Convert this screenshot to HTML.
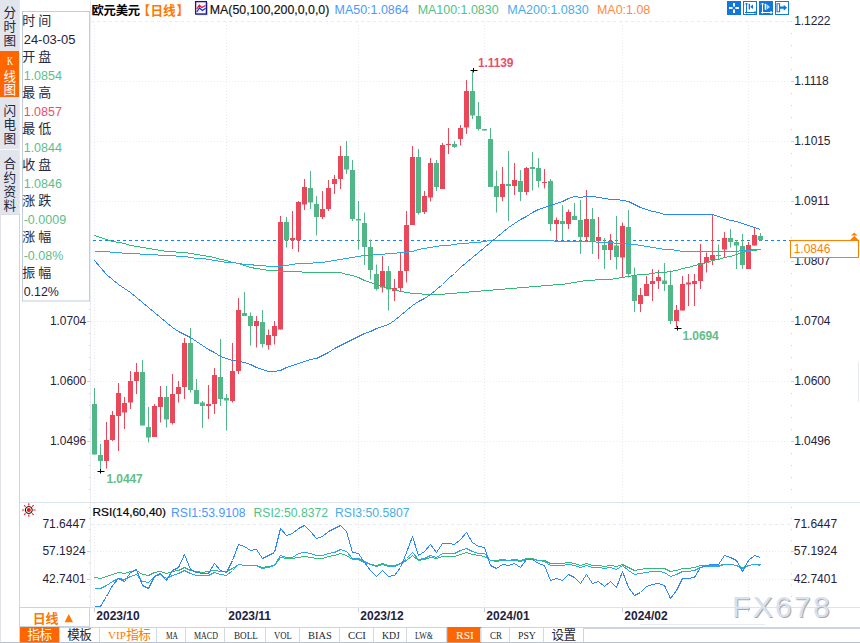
<!DOCTYPE html>
<html><head><meta charset="utf-8"><title>chart</title>
<style>
html,body{margin:0;padding:0;background:#fff;}
body{width:860px;height:643px;overflow:hidden;position:relative;font-family:"Liberation Sans",sans-serif;}
#c{position:absolute;left:0;top:0;width:860px;height:643px;overflow:hidden;}
svg{position:absolute;left:0;top:0;}
svg text{font-family:"Liberation Sans","Noto Sans CJK SC",sans-serif;}
.t{position:absolute;white-space:nowrap;box-sizing:content-box;}
</style></head><body><div id="c">
<svg width="860" height="643" viewBox="0 0 860 643">
<rect x="0" y="0" width="19.8" height="214" fill="#e3e5ed"/>
<line x1="91" y1="21.5" x2="790" y2="21.5" stroke="#e5ecf4" stroke-width="1" stroke-dasharray="3 3"/>
<line x1="91" y1="81.5" x2="790" y2="81.5" stroke="#e8ecf2" stroke-width="1" stroke-dasharray="1 2"/>
<line x1="91" y1="141.5" x2="790" y2="141.5" stroke="#e8ecf2" stroke-width="1" stroke-dasharray="1 2"/>
<line x1="91" y1="201.5" x2="790" y2="201.5" stroke="#e8ecf2" stroke-width="1" stroke-dasharray="1 2"/>
<line x1="91" y1="261.5" x2="790" y2="261.5" stroke="#e8ecf2" stroke-width="1" stroke-dasharray="1 2"/>
<line x1="91" y1="321.5" x2="790" y2="321.5" stroke="#e8ecf2" stroke-width="1" stroke-dasharray="1 2"/>
<line x1="91" y1="381.5" x2="790" y2="381.5" stroke="#e8ecf2" stroke-width="1" stroke-dasharray="1 2"/>
<line x1="91" y1="441.5" x2="790" y2="441.5" stroke="#e8ecf2" stroke-width="1" stroke-dasharray="1 2"/>
<line x1="94.5" y1="22" x2="94.5" y2="502" stroke="#e8ecf2" stroke-width="1" stroke-dasharray="1 2"/>
<line x1="94.5" y1="503" x2="94.5" y2="607" stroke="#e8ecf2" stroke-width="1" stroke-dasharray="1 2"/>
<line x1="94.5" y1="608" x2="94.5" y2="612" stroke="#c5cedc" stroke-width="1"/>
<line x1="226.5" y1="22" x2="226.5" y2="502" stroke="#e8ecf2" stroke-width="1" stroke-dasharray="1 2"/>
<line x1="226.5" y1="503" x2="226.5" y2="607" stroke="#e8ecf2" stroke-width="1" stroke-dasharray="1 2"/>
<line x1="226.5" y1="608" x2="226.5" y2="612" stroke="#c5cedc" stroke-width="1"/>
<line x1="358.5" y1="22" x2="358.5" y2="502" stroke="#e8ecf2" stroke-width="1" stroke-dasharray="1 2"/>
<line x1="358.5" y1="503" x2="358.5" y2="607" stroke="#e8ecf2" stroke-width="1" stroke-dasharray="1 2"/>
<line x1="358.5" y1="608" x2="358.5" y2="612" stroke="#c5cedc" stroke-width="1"/>
<line x1="484.5" y1="22" x2="484.5" y2="502" stroke="#e8ecf2" stroke-width="1" stroke-dasharray="1 2"/>
<line x1="484.5" y1="503" x2="484.5" y2="607" stroke="#e8ecf2" stroke-width="1" stroke-dasharray="1 2"/>
<line x1="484.5" y1="608" x2="484.5" y2="612" stroke="#c5cedc" stroke-width="1"/>
<line x1="622.5" y1="22" x2="622.5" y2="502" stroke="#e8ecf2" stroke-width="1" stroke-dasharray="1 2"/>
<line x1="622.5" y1="503" x2="622.5" y2="607" stroke="#e8ecf2" stroke-width="1" stroke-dasharray="1 2"/>
<line x1="622.5" y1="608" x2="622.5" y2="612" stroke="#c5cedc" stroke-width="1"/>
<line x1="748.5" y1="22" x2="748.5" y2="502" stroke="#e8ecf2" stroke-width="1" stroke-dasharray="1 2"/>
<line x1="748.5" y1="503" x2="748.5" y2="607" stroke="#e8ecf2" stroke-width="1" stroke-dasharray="1 2"/>
<line x1="748.5" y1="608" x2="748.5" y2="612" stroke="#c5cedc" stroke-width="1"/>
<line x1="91" y1="524.5" x2="790" y2="524.5" stroke="#e5ecf4" stroke-width="1" stroke-dasharray="3 3"/>
<line x1="91" y1="551.5" x2="790" y2="551.5" stroke="#e8ecf2" stroke-width="1" stroke-dasharray="1 2"/>
<line x1="91" y1="579.5" x2="790" y2="579.5" stroke="#e8ecf2" stroke-width="1" stroke-dasharray="1 2"/>
<line x1="791.5" y1="21" x2="791.5" y2="500" stroke="#c9d1de" stroke-width="1" stroke-dasharray="1 11"/>
<line x1="791.5" y1="507" x2="791.5" y2="606" stroke="#c9d1de" stroke-width="1" stroke-dasharray="1 10.1"/>
<line x1="90.5" y1="0" x2="90.5" y2="607" stroke="#e9edf3" stroke-width="1"/>
<line x1="89.5" y1="309" x2="89.5" y2="500" stroke="#c9d1de" stroke-width="1" stroke-dasharray="1 11"/>
<line x1="89.5" y1="507" x2="89.5" y2="606" stroke="#c9d1de" stroke-width="1" stroke-dasharray="1 10.1"/>
<path d="M791 81.5h3M791 141.5h3M791 201.5h3M791 261.5h3M791 321.5h3M87 321.5h3M791 381.5h3M87 381.5h3M791 441.5h3M87 441.5h3M791 551.5h3M87 551.5h3M791 579.5h3M87 579.5h3" stroke="#c9d1de" stroke-width="1"/>
<line x1="20" y1="502.5" x2="860" y2="502.5" stroke="#dce3ec" stroke-width="1"/>
<line x1="20" y1="607.5" x2="860" y2="607.5" stroke="#dce3ec" stroke-width="1"/>
<line x1="640" y1="624.5" x2="765" y2="624.5" stroke="#e6ebf3" stroke-width="1"/>
<line x1="858.5" y1="362" x2="858.5" y2="402" stroke="#e6ebf3" stroke-width="1"/>
<line x1="91" y1="240.5" x2="790" y2="240.5" stroke="#1583f5" stroke-width="1.2" stroke-dasharray="3 3" stroke-dashoffset="4"/>
<g><rect x="94" y="388.0" width="1" height="66.50" fill="#52b788"/><rect x="92" y="404.0" width="5" height="50.50" fill="#52b788"/><rect x="100" y="444.0" width="1" height="27.00" fill="#52b788"/><rect x="98" y="455.0" width="5" height="6.00" fill="#52b788"/><rect x="106" y="422.0" width="1" height="46.50" fill="#e8485a"/><rect x="104" y="440.0" width="5" height="21.00" fill="#e8485a"/><rect x="112" y="411.0" width="1" height="30.00" fill="#e8485a"/><rect x="110" y="415.0" width="5" height="25.00" fill="#e8485a"/><rect x="118" y="383.0" width="1" height="68.00" fill="#e8485a"/><rect x="116" y="393.0" width="5" height="23.00" fill="#e8485a"/><rect x="124" y="397.0" width="1" height="32.00" fill="#e8485a"/><rect x="122" y="403.0" width="5" height="9.50" fill="#e8485a"/><rect x="130" y="371.0" width="1" height="38.00" fill="#e8485a"/><rect x="128" y="381.0" width="5" height="21.50" fill="#e8485a"/><rect x="136" y="363.0" width="1" height="31.00" fill="#e8485a"/><rect x="134" y="372.0" width="5" height="9.00" fill="#e8485a"/><rect x="142" y="360.0" width="1" height="65.50" fill="#52b788"/><rect x="140" y="372.0" width="5" height="53.50" fill="#52b788"/><rect x="148" y="407.0" width="1" height="35.50" fill="#52b788"/><rect x="146" y="427.0" width="5" height="10.50" fill="#52b788"/><rect x="154" y="404.0" width="1" height="33.00" fill="#e8485a"/><rect x="152" y="406.0" width="5" height="31.00" fill="#e8485a"/><rect x="160" y="386.0" width="1" height="36.50" fill="#e8485a"/><rect x="158" y="397.0" width="5" height="10.00" fill="#e8485a"/><rect x="166" y="386.0" width="1" height="41.50" fill="#52b788"/><rect x="164" y="397.0" width="5" height="22.50" fill="#52b788"/><rect x="172" y="374.0" width="1" height="50.50" fill="#e8485a"/><rect x="170" y="394.0" width="5" height="29.00" fill="#e8485a"/><rect x="178" y="381.0" width="1" height="21.50" fill="#e8485a"/><rect x="176" y="387.0" width="5" height="7.00" fill="#e8485a"/><rect x="184" y="338.0" width="1" height="61.00" fill="#e8485a"/><rect x="182" y="343.0" width="5" height="44.00" fill="#e8485a"/><rect x="190" y="328.0" width="1" height="64.50" fill="#52b788"/><rect x="188" y="343.0" width="5" height="47.00" fill="#52b788"/><rect x="196" y="379.0" width="1" height="25.00" fill="#52b788"/><rect x="194" y="390.0" width="5" height="14.00" fill="#52b788"/><rect x="202" y="401.0" width="1" height="27.00" fill="#52b788"/><rect x="200" y="402.5" width="5" height="3.50" fill="#52b788"/><rect x="208" y="385.0" width="1" height="34.00" fill="#e8485a"/><rect x="206" y="404.0" width="5" height="2.00" fill="#e8485a"/><rect x="214" y="368.0" width="1" height="46.00" fill="#e8485a"/><rect x="212" y="375.0" width="5" height="29.00" fill="#e8485a"/><rect x="220" y="339.0" width="1" height="67.00" fill="#52b788"/><rect x="218" y="377.0" width="5" height="22.00" fill="#52b788"/><rect x="226" y="394.0" width="1" height="36.50" fill="#52b788"/><rect x="224" y="398.0" width="5" height="2.50" fill="#52b788"/><rect x="232" y="343.0" width="1" height="59.50" fill="#e8485a"/><rect x="230" y="371.0" width="5" height="30.00" fill="#e8485a"/><rect x="238" y="298.0" width="1" height="76.00" fill="#e8485a"/><rect x="236" y="310.0" width="5" height="61.00" fill="#e8485a"/><rect x="244" y="292.0" width="1" height="24.00" fill="#52b788"/><rect x="242" y="313.0" width="5" height="3.00" fill="#52b788"/><rect x="250" y="312.5" width="1" height="33.00" fill="#52b788"/><rect x="248" y="316.0" width="5" height="10.00" fill="#52b788"/><rect x="256" y="316.0" width="1" height="31.50" fill="#e8485a"/><rect x="254" y="321.0" width="5" height="5.00" fill="#e8485a"/><rect x="262" y="310.0" width="1" height="37.50" fill="#52b788"/><rect x="260" y="322.0" width="5" height="22.00" fill="#52b788"/><rect x="268" y="329.5" width="1" height="20.00" fill="#e8485a"/><rect x="266" y="335.0" width="5" height="10.00" fill="#e8485a"/><rect x="274" y="321.0" width="1" height="23.50" fill="#e8485a"/><rect x="272" y="326.0" width="5" height="10.00" fill="#e8485a"/><rect x="280" y="216.0" width="1" height="113.50" fill="#e8485a"/><rect x="278" y="222.0" width="5" height="107.50" fill="#e8485a"/><rect x="286" y="217.0" width="1" height="30.50" fill="#52b788"/><rect x="284" y="222.0" width="5" height="18.00" fill="#52b788"/><rect x="292" y="211.0" width="1" height="38.00" fill="#e8485a"/><rect x="290" y="238.0" width="5" height="2.00" fill="#e8485a"/><rect x="298" y="201.0" width="1" height="51.00" fill="#e8485a"/><rect x="296" y="202.0" width="5" height="38.00" fill="#e8485a"/><rect x="304" y="179.0" width="1" height="31.00" fill="#e8485a"/><rect x="302" y="187.0" width="5" height="17.50" fill="#e8485a"/><rect x="310" y="171.0" width="1" height="38.00" fill="#52b788"/><rect x="308" y="188.0" width="5" height="14.50" fill="#52b788"/><rect x="316" y="196.0" width="1" height="39.50" fill="#52b788"/><rect x="314" y="204.0" width="5" height="13.00" fill="#52b788"/><rect x="322" y="191.0" width="1" height="28.00" fill="#e8485a"/><rect x="320" y="209.0" width="5" height="8.00" fill="#e8485a"/><rect x="328" y="180.0" width="1" height="31.00" fill="#e8485a"/><rect x="326" y="188.0" width="5" height="21.00" fill="#e8485a"/><rect x="334" y="175.0" width="1" height="19.00" fill="#e8485a"/><rect x="332" y="179.0" width="5" height="5.00" fill="#e8485a"/><rect x="340" y="146.0" width="1" height="43.00" fill="#e8485a"/><rect x="338" y="156.0" width="5" height="23.00" fill="#e8485a"/><rect x="346" y="141.0" width="1" height="33.00" fill="#52b788"/><rect x="344" y="156.0" width="5" height="13.50" fill="#52b788"/><rect x="352" y="160.0" width="1" height="61.00" fill="#52b788"/><rect x="350" y="170.0" width="5" height="49.00" fill="#52b788"/><rect x="358" y="201.0" width="1" height="48.50" fill="#52b788"/><rect x="356" y="219.0" width="5" height="1.50" fill="#52b788"/><rect x="364" y="212.5" width="1" height="52.50" fill="#52b788"/><rect x="362" y="223.0" width="5" height="24.00" fill="#52b788"/><rect x="370" y="239.5" width="1" height="40.00" fill="#52b788"/><rect x="368" y="247.0" width="5" height="23.00" fill="#52b788"/><rect x="376" y="264.5" width="1" height="26.00" fill="#52b788"/><rect x="374" y="274.0" width="5" height="15.00" fill="#52b788"/><rect x="382" y="256.0" width="1" height="36.50" fill="#e8485a"/><rect x="380" y="271.0" width="5" height="16.50" fill="#e8485a"/><rect x="388" y="266.0" width="1" height="44.50" fill="#52b788"/><rect x="386" y="271.0" width="5" height="18.50" fill="#52b788"/><rect x="394" y="279.0" width="1" height="22.00" fill="#e8485a"/><rect x="392" y="288.0" width="5" height="3.00" fill="#e8485a"/><rect x="400" y="252.0" width="1" height="39.00" fill="#e8485a"/><rect x="398" y="271.0" width="5" height="17.00" fill="#e8485a"/><rect x="406" y="211.0" width="1" height="71.50" fill="#e8485a"/><rect x="404" y="225.0" width="5" height="46.00" fill="#e8485a"/><rect x="412" y="146.0" width="1" height="79.00" fill="#e8485a"/><rect x="410" y="157.0" width="5" height="68.00" fill="#e8485a"/><rect x="418" y="149.0" width="1" height="65.50" fill="#52b788"/><rect x="416" y="157.0" width="5" height="56.00" fill="#52b788"/><rect x="424" y="191.0" width="1" height="23.00" fill="#e8485a"/><rect x="422" y="196.0" width="5" height="16.00" fill="#e8485a"/><rect x="430" y="158.0" width="1" height="43.50" fill="#e8485a"/><rect x="428" y="163.0" width="5" height="34.50" fill="#e8485a"/><rect x="436" y="160.0" width="1" height="31.00" fill="#52b788"/><rect x="434" y="163.0" width="5" height="24.00" fill="#52b788"/><rect x="442" y="143.0" width="1" height="46.00" fill="#e8485a"/><rect x="440" y="145.0" width="5" height="44.00" fill="#e8485a"/><rect x="448" y="128.0" width="1" height="26.00" fill="#e8485a"/><rect x="446" y="144.0" width="5" height="1.00" fill="#e8485a"/><rect x="454" y="141.0" width="1" height="7.00" fill="#52b788"/><rect x="452" y="144.0" width="5" height="3.00" fill="#52b788"/><rect x="460" y="125.0" width="1" height="20.50" fill="#e8485a"/><rect x="458" y="128.0" width="5" height="11.00" fill="#e8485a"/><rect x="466" y="80.0" width="1" height="54.00" fill="#e8485a"/><rect x="464" y="91.0" width="5" height="36.50" fill="#e8485a"/><rect x="472" y="70.5" width="1" height="48.50" fill="#52b788"/><rect x="470" y="91.0" width="5" height="24.50" fill="#52b788"/><rect x="478" y="102.0" width="1" height="28.50" fill="#52b788"/><rect x="476" y="116.0" width="5" height="13.00" fill="#52b788"/><rect x="484" y="129.0" width="1" height="1.50" fill="#52b788"/><rect x="482" y="129.0" width="5" height="1.50" fill="#52b788"/><rect x="490" y="128.0" width="1" height="59.00" fill="#52b788"/><rect x="488" y="139.0" width="5" height="48.00" fill="#52b788"/><rect x="496" y="170.5" width="1" height="42.00" fill="#52b788"/><rect x="494" y="186.0" width="5" height="11.00" fill="#52b788"/><rect x="502" y="167.0" width="1" height="34.00" fill="#e8485a"/><rect x="500" y="184.0" width="5" height="13.00" fill="#e8485a"/><rect x="508" y="151.0" width="1" height="70.00" fill="#52b788"/><rect x="506" y="184.0" width="5" height="2.00" fill="#52b788"/><rect x="514" y="163.0" width="1" height="32.00" fill="#e8485a"/><rect x="512" y="180.0" width="5" height="6.00" fill="#e8485a"/><rect x="520" y="170.0" width="1" height="31.00" fill="#52b788"/><rect x="518" y="181.0" width="5" height="11.00" fill="#52b788"/><rect x="526" y="167.0" width="1" height="28.00" fill="#e8485a"/><rect x="524" y="168.0" width="5" height="24.00" fill="#e8485a"/><rect x="532" y="152.0" width="1" height="38.50" fill="#52b788"/><rect x="530" y="167.0" width="5" height="2.00" fill="#52b788"/><rect x="538" y="158.0" width="1" height="29.50" fill="#52b788"/><rect x="536" y="168.0" width="5" height="13.00" fill="#52b788"/><rect x="544" y="169.0" width="1" height="19.50" fill="#e8485a"/><rect x="542" y="182.0" width="5" height="1.00" fill="#e8485a"/><rect x="550" y="179.0" width="1" height="52.00" fill="#52b788"/><rect x="548" y="181.0" width="5" height="43.00" fill="#52b788"/><rect x="556" y="217.5" width="1" height="22.50" fill="#e8485a"/><rect x="554" y="220.0" width="5" height="4.00" fill="#e8485a"/><rect x="562" y="205.0" width="1" height="35.00" fill="#52b788"/><rect x="560" y="221.0" width="5" height="3.00" fill="#52b788"/><rect x="568" y="209.5" width="1" height="19.50" fill="#e8485a"/><rect x="566" y="212.0" width="5" height="12.00" fill="#e8485a"/><rect x="574" y="203.0" width="1" height="17.00" fill="#52b788"/><rect x="572" y="216.0" width="5" height="4.00" fill="#52b788"/><rect x="580" y="200.0" width="1" height="54.00" fill="#52b788"/><rect x="578" y="220.0" width="5" height="17.00" fill="#52b788"/><rect x="586" y="190.0" width="1" height="51.00" fill="#e8485a"/><rect x="584" y="219.0" width="5" height="18.00" fill="#e8485a"/><rect x="592" y="208.0" width="1" height="46.00" fill="#52b788"/><rect x="590" y="219.0" width="5" height="22.00" fill="#52b788"/><rect x="598" y="217.0" width="1" height="42.00" fill="#e8485a"/><rect x="596" y="237.0" width="5" height="4.00" fill="#e8485a"/><rect x="604" y="238.0" width="1" height="31.00" fill="#52b788"/><rect x="602" y="245.0" width="5" height="5.00" fill="#52b788"/><rect x="610" y="234.0" width="1" height="26.00" fill="#e8485a"/><rect x="608" y="241.0" width="5" height="9.00" fill="#e8485a"/><rect x="616" y="216.0" width="1" height="53.50" fill="#52b788"/><rect x="614" y="245.5" width="5" height="11.50" fill="#52b788"/><rect x="622" y="222.5" width="1" height="55.00" fill="#e8485a"/><rect x="620" y="226.0" width="5" height="31.50" fill="#e8485a"/><rect x="628" y="210.0" width="1" height="67.50" fill="#52b788"/><rect x="626" y="227.0" width="5" height="47.00" fill="#52b788"/><rect x="634" y="267.5" width="1" height="44.50" fill="#52b788"/><rect x="632" y="276.0" width="5" height="25.00" fill="#52b788"/><rect x="640" y="288.0" width="1" height="24.00" fill="#e8485a"/><rect x="638" y="295.0" width="5" height="9.00" fill="#e8485a"/><rect x="646" y="276.0" width="1" height="20.00" fill="#e8485a"/><rect x="644" y="284.0" width="5" height="12.00" fill="#e8485a"/><rect x="652" y="269.0" width="1" height="32.00" fill="#e8485a"/><rect x="650" y="281.0" width="5" height="3.00" fill="#e8485a"/><rect x="658" y="270.0" width="1" height="19.00" fill="#e8485a"/><rect x="656" y="277.0" width="5" height="4.00" fill="#e8485a"/><rect x="664" y="263.0" width="1" height="28.00" fill="#52b788"/><rect x="662" y="280.5" width="5" height="3.50" fill="#52b788"/><rect x="670" y="270.5" width="1" height="53.50" fill="#52b788"/><rect x="668" y="285.0" width="5" height="36.00" fill="#52b788"/><rect x="676" y="305.0" width="1" height="22.50" fill="#e8485a"/><rect x="674" y="310.0" width="5" height="11.00" fill="#e8485a"/><rect x="682" y="276.0" width="1" height="34.50" fill="#e8485a"/><rect x="680" y="284.0" width="5" height="26.50" fill="#e8485a"/><rect x="688" y="274.0" width="1" height="32.00" fill="#e8485a"/><rect x="686" y="282.5" width="5" height="2.00" fill="#e8485a"/><rect x="694" y="274.0" width="1" height="32.00" fill="#e8485a"/><rect x="692" y="281.0" width="5" height="3.00" fill="#e8485a"/><rect x="700" y="244.0" width="1" height="45.00" fill="#e8485a"/><rect x="698" y="263.0" width="5" height="18.00" fill="#e8485a"/><rect x="706" y="252.5" width="1" height="20.00" fill="#e8485a"/><rect x="704" y="257.0" width="5" height="6.00" fill="#e8485a"/><rect x="712" y="215.0" width="1" height="50.00" fill="#e8485a"/><rect x="710" y="255.0" width="5" height="5.00" fill="#e8485a"/><rect x="718" y="244.5" width="1" height="15.50" fill="#52b788"/><rect x="716" y="255.0" width="5" height="1.00" fill="#52b788"/><rect x="724" y="232.0" width="1" height="25.50" fill="#e8485a"/><rect x="722" y="238.0" width="5" height="11.50" fill="#e8485a"/><rect x="730" y="229.0" width="1" height="18.50" fill="#52b788"/><rect x="728" y="238.0" width="5" height="4.00" fill="#52b788"/><rect x="736" y="240.0" width="1" height="29.00" fill="#52b788"/><rect x="734" y="242.0" width="5" height="3.50" fill="#52b788"/><rect x="742" y="234.0" width="1" height="35.00" fill="#52b788"/><rect x="740" y="246.0" width="5" height="19.00" fill="#52b788"/><rect x="748" y="242.0" width="1" height="27.00" fill="#e8485a"/><rect x="746" y="245.0" width="5" height="24.00" fill="#e8485a"/><rect x="754" y="227.5" width="1" height="18.00" fill="#e8485a"/><rect x="752" y="235.0" width="5" height="10.50" fill="#e8485a"/><rect x="760" y="233.0" width="1" height="8.00" fill="#52b788"/><rect x="758" y="236.0" width="5" height="4.00" fill="#52b788"/></g>
<polyline points="94.50,235.50 100.50,237.50 106.50,239.50 112.50,241.50 118.50,242.50 124.50,243.50 130.50,245.50 136.50,246.50 142.50,247.50 148.50,248.50 154.50,249.50 160.50,250.50 166.50,251.50 172.50,251.50 178.50,252.50 184.50,252.50 190.50,253.50 196.50,254.50 202.50,255.50 208.50,256.50 214.50,257.50 220.50,259.50 226.50,260.50 232.50,262.50 238.50,263.50 244.50,265.50 250.50,267.50 256.50,268.50 262.50,269.50 268.50,270.50 274.50,270.50 280.50,271.50 286.50,271.50 292.50,271.50 298.50,271.50 304.50,272.50 310.50,272.50 316.50,272.50 322.50,272.50 328.50,272.50 334.50,272.50 340.50,272.50 346.50,274.50 352.50,275.50 358.50,277.50 364.50,280.50 370.50,282.50 376.50,284.50 382.50,286.50 388.50,288.50 394.50,289.50 400.50,291.50 406.50,292.50 412.50,293.50 418.50,293.50 424.50,294.50 430.50,294.50 436.50,294.50 442.50,294.50 448.50,293.50 454.50,293.50 460.50,292.50 466.50,292.50 472.50,291.50 478.50,291.50 484.50,290.50 490.50,290.50 496.50,289.50 502.50,289.50 508.50,288.50 514.50,288.50 520.50,287.50 526.50,287.50 532.50,286.50 538.50,286.50 544.50,285.50 550.50,285.50 556.50,284.50 562.50,284.50 568.50,283.50 574.50,282.50 580.50,281.50 586.50,280.50 592.50,280.50 598.50,279.50 604.50,279.50 610.50,279.50 616.50,278.50 622.50,277.50 628.50,276.50 634.50,275.50 640.50,274.50 646.50,274.50 652.50,273.50 658.50,272.50 664.50,272.50 670.50,271.50 676.50,270.50 682.50,268.50 688.50,267.50 694.50,265.50 700.50,264.50 706.50,262.50 712.50,260.50 718.50,259.50 724.50,257.50 730.50,256.50 736.50,254.50 742.50,252.50 748.50,251.50 754.50,250.50 760.50,249.50" fill="none" stroke="#35b97a" stroke-width="1.0" stroke-linejoin="round" shape-rendering="crispEdges"/>
<polyline points="94.50,251.50 100.50,251.50 106.50,251.50 112.50,252.50 118.50,252.50 124.50,253.50 130.50,253.50 136.50,253.50 142.50,254.50 148.50,254.50 154.50,254.50 160.50,255.50 166.50,255.50 172.50,255.50 178.50,256.50 184.50,256.50 190.50,257.50 196.50,258.50 202.50,258.50 208.50,259.50 214.50,260.50 220.50,261.50 226.50,262.50 232.50,262.50 238.50,263.50 244.50,264.50 250.50,264.50 256.50,265.50 262.50,265.50 268.50,266.50 274.50,266.50 280.50,266.50 286.50,265.50 292.50,264.50 298.50,263.50 304.50,263.50 310.50,263.50 316.50,262.50 322.50,262.50 328.50,261.50 334.50,260.50 340.50,259.50 346.50,258.50 352.50,257.50 358.50,256.50 364.50,255.50 370.50,255.50 376.50,254.50 382.50,254.50 388.50,253.50 394.50,253.50 400.50,252.50 406.50,252.50 412.50,251.50 418.50,249.50 424.50,248.50 430.50,247.50 436.50,246.50 442.50,245.50 448.50,245.50 454.50,244.50 460.50,243.50 466.50,243.50 472.50,242.50 478.50,242.50 484.50,241.50 490.50,240.50 496.50,240.50 502.50,240.50 508.50,240.50 514.50,240.50 520.50,240.50 526.50,240.50 532.50,240.50 538.50,240.50 544.50,240.50 550.50,240.50 556.50,241.50 562.50,241.50 568.50,241.50 574.50,241.50 580.50,241.50 586.50,241.50 592.50,241.50 598.50,242.50 604.50,242.50 610.50,242.50 616.50,243.50 622.50,243.50 628.50,244.50 634.50,244.50 640.50,245.50 646.50,246.50 652.50,247.50 658.50,248.50 664.50,249.50 670.50,249.50 676.50,250.50 682.50,251.50 688.50,251.50 694.50,251.50 700.50,251.50 706.50,251.50 712.50,251.50 718.50,251.50 724.50,251.50 730.50,251.50 736.50,251.50 742.50,250.50 748.50,250.50 754.50,249.50 760.50,249.50" fill="none" stroke="#2aa9e4" stroke-width="1.0" stroke-linejoin="round" shape-rendering="crispEdges"/>
<polyline points="94.50,260.50 100.50,267.50 106.50,274.50 112.50,279.50 118.50,284.50 124.50,288.50 130.50,292.50 136.50,297.50 142.50,302.50 148.50,307.50 154.50,312.50 160.50,317.50 166.50,322.50 172.50,327.50 178.50,331.50 184.50,334.50 190.50,337.50 196.50,341.50 202.50,345.50 208.50,349.50 214.50,352.50 220.50,356.50 226.50,358.50 232.50,360.50 238.50,361.50 244.50,362.50 250.50,364.50 256.50,367.50 262.50,369.50 268.50,371.50 274.50,371.50 280.50,370.50 286.50,367.50 292.50,365.50 298.50,363.50 304.50,361.50 310.50,359.50 316.50,358.50 322.50,355.50 328.50,352.50 334.50,348.50 340.50,345.50 346.50,342.50 352.50,339.50 358.50,336.50 364.50,333.50 370.50,331.50 376.50,328.50 382.50,326.50 388.50,324.50 394.50,320.50 400.50,315.50 406.50,310.50 412.50,305.50 418.50,301.50 424.50,298.50 430.50,294.50 436.50,289.50 442.50,284.50 448.50,278.50 454.50,273.50 460.50,267.50 466.50,262.50 472.50,257.50 478.50,252.50 484.50,247.50 490.50,242.50 496.50,237.50 502.50,232.50 508.50,227.50 514.50,223.50 520.50,219.50 526.50,216.50 532.50,212.50 538.50,209.50 544.50,207.50 550.50,205.50 556.50,203.50 562.50,201.50 568.50,198.50 574.50,196.50 580.50,197.50 586.50,196.50 592.50,196.50 598.50,197.50 604.50,198.50 610.50,199.50 616.50,199.50 622.50,200.50 628.50,201.50 634.50,204.50 640.50,207.50 646.50,209.50 652.50,211.50 658.50,212.50 664.50,214.50 670.50,214.50 676.50,214.50 682.50,214.50 688.50,214.50 694.50,214.50 700.50,214.50 706.50,214.50 712.50,214.50 718.50,216.50 724.50,218.50 730.50,220.50 736.50,221.50 742.50,223.50 748.50,225.50 754.50,227.50 760.50,229.50" fill="none" stroke="#2a86ff" stroke-width="1.0" stroke-linejoin="round" shape-rendering="crispEdges"/>
<path d="M97.5 471.5H104.5M100.5 469.0V473.5" stroke="#000" stroke-width="1" fill="none"/>
<path d="M470.5 70.5H477.5M473.5 68.0V72.5" stroke="#000" stroke-width="1" fill="none"/>
<path d="M674.5 328.5H681.5M677.5 326.0V330.5" stroke="#000" stroke-width="1" fill="none"/>
<polyline points="94.50,577.50 100.50,578.50 106.50,576.50 112.50,574.50 118.50,572.50 124.50,573.50 130.50,571.50 136.50,570.50 142.50,574.50 148.50,575.50 154.50,572.50 160.50,571.50 166.50,573.50 172.50,571.50 178.50,570.50 184.50,567.50 190.50,570.50 196.50,571.50 202.50,572.50 208.50,571.50 214.50,570.50 220.50,571.50 226.50,571.50 232.50,568.50 238.50,564.50 244.50,565.50 250.50,565.50 256.50,565.50 262.50,567.50 268.50,566.50 274.50,565.50 280.50,557.50 286.50,558.50 292.50,558.50 298.50,557.50 304.50,556.50 310.50,557.50 316.50,558.50 322.50,558.50 328.50,556.50 334.50,555.50 340.50,553.50 346.50,555.50 352.50,559.50 358.50,559.50 364.50,562.50 370.50,564.50 376.50,565.50 382.50,563.50 388.50,565.50 394.50,565.50 400.50,563.50 406.50,560.50 412.50,555.50 418.50,560.50 424.50,559.50 430.50,557.50 436.50,558.50 442.50,556.50 448.50,556.50 454.50,556.50 460.50,554.50 466.50,552.50 472.50,554.50 478.50,555.50 484.50,556.50 490.50,560.50 496.50,560.50 502.50,559.50 508.50,560.50 514.50,559.50 520.50,560.50 526.50,558.50 532.50,558.50 538.50,560.50 544.50,560.50 550.50,563.50 556.50,563.50 562.50,563.50 568.50,562.50 574.50,563.50 580.50,565.50 586.50,563.50 592.50,565.50 598.50,565.50 604.50,566.50 610.50,565.50 616.50,566.50 622.50,564.50 628.50,567.50 634.50,570.50 640.50,569.50 646.50,568.50 652.50,568.50 658.50,568.50 664.50,568.50 670.50,571.50 676.50,570.50 682.50,568.50 688.50,568.50 694.50,567.50 700.50,565.50 706.50,565.50 712.50,565.50 718.50,565.50 724.50,564.50 730.50,564.50 736.50,565.50 742.50,567.50 748.50,565.50 754.50,564.50 760.50,565.50" fill="none" stroke="#35b97a" stroke-width="1.0" stroke-linejoin="round" shape-rendering="crispEdges"/>
<polyline points="94.50,588.50 100.50,588.50 106.50,585.50 112.50,581.50 118.50,578.50 124.50,579.50 130.50,576.50 136.50,574.50 142.50,581.50 148.50,582.50 154.50,576.50 160.50,574.50 166.50,578.50 172.50,575.50 178.50,573.50 184.50,570.50 190.50,573.50 196.50,575.50 202.50,575.50 208.50,575.50 214.50,572.50 220.50,574.50 226.50,575.50 232.50,570.50 238.50,564.50 244.50,565.50 250.50,565.50 256.50,565.50 262.50,568.50 268.50,567.50 274.50,565.50 280.50,555.50 286.50,557.50 292.50,557.50 298.50,553.50 304.50,552.50 310.50,553.50 316.50,555.50 322.50,555.50 328.50,553.50 334.50,552.50 340.50,549.50 346.50,551.50 352.50,558.50 358.50,558.50 364.50,561.50 370.50,564.50 376.50,566.50 382.50,564.50 388.50,566.50 394.50,566.50 400.50,563.50 406.50,558.50 412.50,552.50 418.50,559.50 424.50,558.50 430.50,555.50 436.50,557.50 442.50,553.50 448.50,553.50 454.50,553.50 460.50,550.50 466.50,548.50 472.50,551.50 478.50,553.50 484.50,553.50 490.50,560.50 496.50,561.50 502.50,560.50 508.50,560.50 514.50,560.50 520.50,561.50 526.50,559.50 532.50,559.50 538.50,560.50 544.50,561.50 550.50,565.50 556.50,565.50 562.50,565.50 568.50,564.50 574.50,565.50 580.50,567.50 586.50,565.50 592.50,567.50 598.50,567.50 604.50,568.50 610.50,567.50 616.50,569.50 622.50,565.50 628.50,570.50 634.50,574.50 640.50,573.50 646.50,572.50 652.50,571.50 658.50,571.50 664.50,572.50 670.50,576.50 676.50,574.50 682.50,571.50 688.50,571.50 694.50,570.50 700.50,567.50 706.50,566.50 712.50,566.50 718.50,566.50 724.50,564.50 730.50,564.50 736.50,565.50 742.50,568.50 748.50,565.50 754.50,564.50 760.50,564.50" fill="none" stroke="#2aa9e4" stroke-width="1.0" stroke-linejoin="round" shape-rendering="crispEdges"/>
<polyline points="94.50,606.50 100.50,606.50 106.50,596.50 112.50,585.50 118.50,578.50 124.50,581.50 130.50,572.50 136.50,569.50 142.50,585.50 148.50,588.50 154.50,576.50 160.50,573.50 166.50,580.50 172.50,570.50 178.50,567.50 184.50,554.50 190.50,569.50 196.50,572.50 202.50,573.50 208.50,573.50 214.50,563.50 220.50,570.50 226.50,572.50 232.50,560.50 238.50,544.50 244.50,546.50 250.50,550.50 256.50,549.50 262.50,558.50 268.50,555.50 274.50,552.50 280.50,528.50 286.50,535.50 292.50,533.50 298.50,528.50 304.50,525.50 310.50,531.50 316.50,538.50 322.50,536.50 328.50,531.50 334.50,528.50 340.50,525.50 346.50,531.50 352.50,552.50 358.50,553.50 364.50,562.50 370.50,570.50 376.50,576.50 382.50,570.50 388.50,576.50 394.50,575.50 400.50,567.50 406.50,552.50 412.50,536.50 418.50,555.50 424.50,551.50 430.50,544.50 436.50,552.50 442.50,543.50 448.50,543.50 454.50,544.50 460.50,539.50 466.50,532.50 472.50,542.50 478.50,546.50 484.50,547.50 490.50,565.50 496.50,568.50 502.50,564.50 508.50,565.50 514.50,563.50 520.50,567.50 526.50,559.50 532.50,559.50 538.50,563.50 544.50,565.50 550.50,580.50 556.50,578.50 562.50,580.50 568.50,574.50 574.50,577.50 580.50,583.50 586.50,574.50 592.50,583.50 598.50,581.50 604.50,586.50 610.50,581.50 616.50,587.50 622.50,571.50 628.50,587.50 634.50,595.50 640.50,592.50 646.50,586.50 652.50,584.50 658.50,583.50 664.50,585.50 670.50,598.50 676.50,590.50 682.50,578.50 688.50,578.50 694.50,577.50 700.50,567.50 706.50,565.50 712.50,564.50 718.50,564.50 724.50,555.50 730.50,557.50 736.50,560.50 742.50,571.50 748.50,560.50 754.50,555.50 760.50,557.50" fill="none" stroke="#2a86ff" stroke-width="1.0" stroke-linejoin="round" shape-rendering="crispEdges"/>
<rect x="0" y="51" width="19" height="46" fill="#ff6600"/>
<line x1="0.4" y1="214" x2="0.4" y2="643" stroke="#d4d8e0" stroke-width="0.8"/>
<line x1="0" y1="149.5" x2="19" y2="149.5" stroke="#f6f7fa" stroke-width="1"/>
<line x1="0" y1="214.5" x2="19" y2="214.5" stroke="#d8dce6" stroke-width="1"/>
<line x1="19.5" y1="214" x2="19.5" y2="643" stroke="#cfd6e3" stroke-width="1"/>
<text font-size="12.6" fill="#23263a" x="3.4" y="17.39">分</text>
<text font-size="12.6" fill="#23263a" x="3.4" y="31.39">时</text>
<text font-size="12.6" fill="#23263a" x="3.4" y="45.39">图</text>
<text font-size="12.6" fill="#fff" x="3.4" y="80.59">线</text>
<text font-size="12.6" fill="#fff" x="3.4" y="94.49">图</text>
<text font-size="12.6" fill="#23263a" x="3.4" y="115.09">闪</text>
<text font-size="12.6" fill="#23263a" x="3.4" y="129.09">电</text>
<text font-size="12.6" fill="#23263a" x="3.4" y="143.09">图</text>
<text font-size="12.6" fill="#23263a" x="3.4" y="168.09">合</text>
<text font-size="12.6" fill="#23263a" x="3.4" y="182.09">约</text>
<text font-size="12.6" fill="#23263a" x="3.4" y="196.09">资</text>
<text font-size="12.6" fill="#23263a" x="3.4" y="210.09">料</text>
<rect x="22.5" y="11.5" width="67" height="289.5" fill="#fff" stroke="#c3cddb" stroke-width="1"/>
<text font-size="13" fill="#262a3e" x="22.3 38.15" y="24.84">时间</text>
<text font-size="13" fill="#262a3e" x="22.3 38.15" y="60.84">开盘</text>
<text font-size="13" fill="#262a3e" x="22.3 38.15" y="96.84">最高</text>
<text font-size="13" fill="#262a3e" x="22.3 38.15" y="132.84">最低</text>
<text font-size="13" fill="#262a3e" x="22.3 38.15" y="168.84">收盘</text>
<text font-size="13" fill="#262a3e" x="22.3 38.15" y="204.84">涨跌</text>
<text font-size="13" fill="#262a3e" x="22.3 38.15" y="240.84">涨幅</text>
<text font-size="13" fill="#262a3e" x="22.3 38.15" y="276.84">振幅</text>
<text font-size="12.3" font-weight="bold" fill="#000" x="91.4 103.55 115.7 127.85" y="14.52">欧元美元</text>
<text font-size="12.6" font-weight="bold" fill="#ff7800" x="137.5 150.6 163 176.6" y="14.89">【日线】</text>
<rect x="196.6" y="2.6" width="11" height="12.6" fill="#a0a4b0"/>
<rect x="195.6" y="1.6" width="10.8" height="12.4" fill="#f4f4ff" stroke="#1a1a86" stroke-width="1.3"/>
<polyline points="196.8,9 199.3,5.2 202,7.6 205.4,5.6" fill="none" stroke="#f01020" stroke-width="1.2"/>
<polyline points="196.8,12 199.5,8 202.4,10.4 205.6,8.2" fill="none" stroke="#1030e0" stroke-width="1.2"/>
<rect x="727" y="1" width="14" height="14" fill="#1177dd"/>
<path d="M733 3h2v3.6h-2zM733 9.4h2v3.6h-2zM729 7h3.6v2h-3.6zM735.4 7h3.6v2h-3.6z" fill="#fff"/>
<rect x="743.5" y="1.5" width="13" height="13" fill="#fff" stroke="#1177dd" stroke-width="1"/>
<path d="M746.5 3v10.5M745 12.5h11M745 4.5l1.5-1.5 1.5 1.5M754.5 11l1.5 1.5-1.5 1.5" stroke="#1177dd" stroke-width="1" fill="none"/><path d="M748.7 3.8h1.3v5.6h-1.3zM753 4.4v4.6l-2.8-2.3z" fill="#1177dd"/>
<rect x="759" y="1" width="14" height="14" fill="#1177dd"/>
<path d="M762.5 3v10.5M761 12.5h11M761 4.5l1.5-1.5 1.5 1.5M770.5 11l1.5 1.5-1.5 1.5" stroke="#fff" stroke-width="1" fill="none"/><path d="M764.7 3.8h1.5v6h-1.5z" fill="#fff"/><path d="M766.6 4l3.4 2.9-3.4 2.9z" fill="#bcd8f6"/>
<rect x="775.5" y="1.5" width="13" height="13" fill="#fff" stroke="#1177dd" stroke-width="1"/>
<path d="M777 3.8h2.6v8h-2.6z" stroke="#1177dd" stroke-width="1.1" fill="none"/><path d="M779.5 6.6h4.2V4.7l3.4 3-3.4 3V8.8h-4.2z" fill="#1177dd"/>
<path d="M854.3 232.5l3.2 3h-6.4zM854.3 235.7l4.5 4.5h-9z" fill="#ff8000"/>
<g stroke="#f01818" stroke-width="1.1" fill="none"><path d="M28.8 503.2v2.2M28.8 514.6v2.2M22 510h2.2M33.4 510h2.2M24 505.2l1.5 1.5M32.1 513.3l1.5 1.5M33.6 505.2l-1.5 1.5M25.5 513.3l-1.5 1.5"/></g><circle cx="28.8" cy="510" r="3.5" fill="#fff" stroke="#000" stroke-width="1"/><circle cx="28.8" cy="510" r="2" fill="#f01010"/>
<rect x="19.5" y="607.5" width="70" height="19" fill="#fff" stroke="#cbd3e0" stroke-width="1"/>
<text font-size="13" font-weight="bold" fill="#ff7800" x="32.7 45.4" y="623.04">日线</text>
<path d="M64.6 622.2l4.2-8.2 4.2 8.2z" fill="#ff7800"/>
<line x1="20" y1="627.5" x2="860" y2="627.5" stroke="#cdd4e0" stroke-width="1"/>
<line x1="0" y1="642.5" x2="860" y2="642.5" stroke="#b9c0cf" stroke-width="1"/>
<rect x="20" y="627" width="39.5" height="15.5" fill="#ff6600"/>
<line x1="59.5" y1="628" x2="59.5" y2="642" stroke="#d3d9e4" stroke-width="1"/>
<text font-size="12.6" fill="#fff" x="27.45 39.45" y="639.39">指标</text>
<line x1="99.5" y1="628" x2="99.5" y2="642" stroke="#d3d9e4" stroke-width="1"/>
<text font-size="12.6" fill="#1c1f33" x="67.2 79.2" y="639.39">模板</text>
<line x1="156.5" y1="628" x2="156.5" y2="642" stroke="#d3d9e4" stroke-width="1"/>
<text font-size="12.6" fill="#ff7800" x="126.3 138.3" y="639.39">指标</text>
<line x1="185.5" y1="628" x2="185.5" y2="642" stroke="#d3d9e4" stroke-width="1"/>
<line x1="224.5" y1="628" x2="224.5" y2="642" stroke="#d3d9e4" stroke-width="1"/>
<line x1="265.5" y1="628" x2="265.5" y2="642" stroke="#d3d9e4" stroke-width="1"/>
<line x1="299.5" y1="628" x2="299.5" y2="642" stroke="#d3d9e4" stroke-width="1"/>
<line x1="339.5" y1="628" x2="339.5" y2="642" stroke="#d3d9e4" stroke-width="1"/>
<line x1="373.5" y1="628" x2="373.5" y2="642" stroke="#d3d9e4" stroke-width="1"/>
<line x1="406.5" y1="628" x2="406.5" y2="642" stroke="#d3d9e4" stroke-width="1"/>
<line x1="446.5" y1="628" x2="446.5" y2="642" stroke="#d3d9e4" stroke-width="1"/>
<rect x="447.2" y="627" width="34.0" height="15.5" fill="#ff6600"/>
<line x1="480.5" y1="628" x2="480.5" y2="642" stroke="#d3d9e4" stroke-width="1"/>
<line x1="509.5" y1="628" x2="509.5" y2="642" stroke="#d3d9e4" stroke-width="1"/>
<line x1="543.5" y1="628" x2="543.5" y2="642" stroke="#d3d9e4" stroke-width="1"/>
<line x1="583.5" y1="628" x2="583.5" y2="642" stroke="#d3d9e4" stroke-width="1"/>
<text font-size="12.6" fill="#1c1f33" x="551.45 563.45" y="639.39">设置</text>
<path d="M583.5 642V628.5H860" stroke="#cdd4e0" stroke-width="1" fill="none"/>
</svg>
<div class="t" style="left:7.00px;top:56.43px;font-size:11.5px;line-height:11.5px;color:#fff;font-family:'Liberation Serif',serif;transform:scaleX(0.7400);transform-origin:0 0;">K</div>
<div class="t" style="left:23.70px;top:33.64px;font-size:12.95px;line-height:12.95px;color:#1f2340;">24-03-05</div>
<div class="t" style="left:23.70px;top:70.02px;font-size:12.5px;line-height:12.5px;color:#5cbd8d;">1.0854</div>
<div class="t" style="left:23.70px;top:106.02px;font-size:12.5px;line-height:12.5px;color:#e8506a;">1.0857</div>
<div class="t" style="left:23.70px;top:142.02px;font-size:12.5px;line-height:12.5px;color:#5cbd8d;">1.0844</div>
<div class="t" style="left:23.70px;top:178.02px;font-size:12.5px;line-height:12.5px;color:#5cbd8d;">1.0846</div>
<div class="t" style="left:23.70px;top:214.02px;font-size:12.5px;line-height:12.5px;color:#5cbd8d;">-0.0009</div>
<div class="t" style="left:23.70px;top:250.02px;font-size:12.5px;line-height:12.5px;color:#5cbd8d;">-0.08%</div>
<div class="t" style="left:23.70px;top:286.10px;font-size:12.4px;line-height:12.4px;color:#1f2340;">0.12%</div>
<div class="t" style="left:209.80px;top:4.44px;font-size:12.36px;line-height:12.36px;color:#111;-webkit-text-stroke:0.15px #111;">MA(50,100,200,0,0,0)</div>
<div class="t" style="left:334.60px;top:4.37px;font-size:12.44px;line-height:12.44px;color:#4a97ff;">MA50:1.0864</div>
<div class="t" style="left:417.70px;top:4.37px;font-size:12.44px;line-height:12.44px;color:#4cc48a;">MA100:1.0830</div>
<div class="t" style="left:507.30px;top:4.32px;font-size:12.5px;line-height:12.5px;color:#45aeea;">MA200:1.0830</div>
<div class="t" style="left:597.00px;top:4.36px;font-size:12.45px;line-height:12.45px;color:#ff8a3d;">MA0:1.08</div>
<div class="t" style="left:794.30px;top:15.24px;font-size:12px;line-height:12px;color:#1f2340;letter-spacing:-0.1px;">1.1222</div>
<div class="t" style="left:794.30px;top:75.24px;font-size:12px;line-height:12px;color:#1f2340;letter-spacing:-0.1px;">1.1118</div>
<div class="t" style="left:794.30px;top:135.24px;font-size:12px;line-height:12px;color:#1f2340;letter-spacing:-0.1px;">1.1015</div>
<div class="t" style="left:794.30px;top:195.24px;font-size:12px;line-height:12px;color:#1f2340;letter-spacing:-0.1px;">1.0911</div>
<div class="t" style="left:794.30px;top:255.24px;font-size:12px;line-height:12px;color:#1f2340;letter-spacing:-0.1px;">1.0807</div>
<div class="t" style="left:794.30px;top:315.24px;font-size:12px;line-height:12px;color:#1f2340;letter-spacing:-0.1px;">1.0704</div>
<div class="t" style="left:50.00px;top:315.24px;font-size:12px;line-height:12px;color:#1f2340;letter-spacing:-0.1px;">1.0704</div>
<div class="t" style="left:794.30px;top:375.24px;font-size:12px;line-height:12px;color:#1f2340;letter-spacing:-0.1px;">1.0600</div>
<div class="t" style="left:50.00px;top:375.24px;font-size:12px;line-height:12px;color:#1f2340;letter-spacing:-0.1px;">1.0600</div>
<div class="t" style="left:794.30px;top:435.24px;font-size:12px;line-height:12px;color:#1f2340;letter-spacing:-0.1px;">1.0496</div>
<div class="t" style="left:50.00px;top:435.24px;font-size:12px;line-height:12px;color:#1f2340;letter-spacing:-0.1px;">1.0496</div>
<div class="t" style="left:790px;top:240px;width:67px;height:16px;border:1px solid #ff8000;background:#fff;z-index:5;"></div>
<div class="t" style="left:793.70px;top:243.44px;font-size:12px;line-height:12px;color:#ff8000;z-index:6;">1.0846</div>
<div class="t" style="left:478.00px;top:57.04px;font-size:12px;line-height:12px;color:#e8506a;font-weight:bold;letter-spacing:-0.1px;">1.1139</div>
<div class="t" style="left:682.50px;top:330.24px;font-size:12px;line-height:12px;color:#62bd8b;font-weight:bold;letter-spacing:-0.1px;">1.0694</div>
<div class="t" style="left:106.50px;top:473.24px;font-size:12px;line-height:12px;color:#62bd8b;font-weight:bold;letter-spacing:-0.1px;">1.0447</div>
<div class="t" style="left:92.50px;top:507.41px;font-size:11.8px;line-height:11.8px;color:#000;-webkit-text-stroke:0.2px #000;">RSI(14,60,40)</div>
<div class="t" style="left:171.00px;top:507.07px;font-size:12.2px;line-height:12.2px;color:#4a97ff;">RSI1:53.9108</div>
<div class="t" style="left:253.50px;top:507.07px;font-size:12.2px;line-height:12.2px;color:#4cc48a;">RSI2:50.8372</div>
<div class="t" style="left:335.00px;top:507.07px;font-size:12.2px;line-height:12.2px;color:#45aeea;">RSI3:50.5807</div>
<div class="t" style="left:42.40px;top:517.94px;font-size:12px;line-height:12px;color:#1f2340;">71.6447</div>
<div class="t" style="left:793.75px;top:517.94px;font-size:12px;line-height:12px;color:#1f2340;">71.6447</div>
<div class="t" style="left:42.40px;top:544.94px;font-size:12px;line-height:12px;color:#1f2340;">57.1924</div>
<div class="t" style="left:793.75px;top:544.94px;font-size:12px;line-height:12px;color:#1f2340;">57.1924</div>
<div class="t" style="left:42.40px;top:572.94px;font-size:12px;line-height:12px;color:#1f2340;">42.7401</div>
<div class="t" style="left:793.75px;top:572.94px;font-size:12px;line-height:12px;color:#1f2340;">42.7401</div>
<div class="t" style="left:96.30px;top:609.84px;font-size:12px;line-height:12px;color:#1f2340;font-weight:bold;">2023/10</div>
<div class="t" style="left:228.30px;top:609.84px;font-size:12px;line-height:12px;color:#1f2340;font-weight:bold;">2023/11</div>
<div class="t" style="left:360.30px;top:609.84px;font-size:12px;line-height:12px;color:#1f2340;font-weight:bold;">2023/12</div>
<div class="t" style="left:486.30px;top:609.84px;font-size:12px;line-height:12px;color:#1f2340;font-weight:bold;">2024/01</div>
<div class="t" style="left:624.30px;top:609.84px;font-size:12px;line-height:12px;color:#1f2340;font-weight:bold;">2024/02</div>
<div class="t" style="left:108.20px;top:629.98px;font-size:11.2px;line-height:11.2px;color:#ff7800;font-family:'Liberation Serif',serif;transform:scaleX(0.9919);transform-origin:0 0;">VIP</div>
<div class="t" style="left:165.70px;top:629.98px;font-size:11.2px;line-height:11.2px;color:#1c1f33;font-family:'Liberation Serif',serif;transform:scaleX(0.6594);transform-origin:0 0;">MA</div>
<div class="t" style="left:193.55px;top:629.98px;font-size:11.2px;line-height:11.2px;color:#1c1f33;font-family:'Liberation Serif',serif;transform:scaleX(0.7112);transform-origin:0 0;">MACD</div>
<div class="t" style="left:233.55px;top:629.98px;font-size:11.2px;line-height:11.2px;color:#1c1f33;font-family:'Liberation Serif',serif;transform:scaleX(0.8173);transform-origin:0 0;">BOLL</div>
<div class="t" style="left:274.05px;top:629.98px;font-size:11.2px;line-height:11.2px;color:#1c1f33;font-family:'Liberation Serif',serif;transform:scaleX(0.7776);transform-origin:0 0;">VOL</div>
<div class="t" style="left:308.05px;top:629.98px;font-size:11.2px;line-height:11.2px;color:#1c1f33;font-family:'Liberation Serif',serif;transform:scaleX(0.9366);transform-origin:0 0;">BIAS</div>
<div class="t" style="left:348.05px;top:629.98px;font-size:11.2px;line-height:11.2px;color:#1c1f33;font-family:'Liberation Serif',serif;transform:scaleX(0.9587);transform-origin:0 0;">CCI</div>
<div class="t" style="left:381.80px;top:629.98px;font-size:11.2px;line-height:11.2px;color:#1c1f33;font-family:'Liberation Serif',serif;transform:scaleX(0.8717);transform-origin:0 0;">KDJ</div>
<div class="t" style="left:415.30px;top:629.98px;font-size:11.2px;line-height:11.2px;color:#1c1f33;font-family:'Liberation Serif',serif;transform:scaleX(0.7077);transform-origin:0 0;">LW&amp;</div>
<div class="t" style="left:455.50px;top:629.98px;font-size:11.2px;line-height:11.2px;color:#fff;font-family:'Liberation Serif',serif;transform:scaleX(1.0270);transform-origin:0 0;">RSI</div>
<div class="t" style="left:489.75px;top:629.98px;font-size:11.2px;line-height:11.2px;color:#1c1f33;font-family:'Liberation Serif',serif;transform:scaleX(0.7965);transform-origin:0 0;">CR</div>
<div class="t" style="left:518.15px;top:629.98px;font-size:11.2px;line-height:11.2px;color:#1c1f33;font-family:'Liberation Serif',serif;transform:scaleX(0.8712);transform-origin:0 0;">PSY</div>
<div class="t" style="left:732px;top:590.3px;font-size:30px;line-height:34px;letter-spacing:2.3px;color:#d6e2f4;text-shadow:1px 1px 0.6px #b7a695;">FX678</div>
</div></body></html>
